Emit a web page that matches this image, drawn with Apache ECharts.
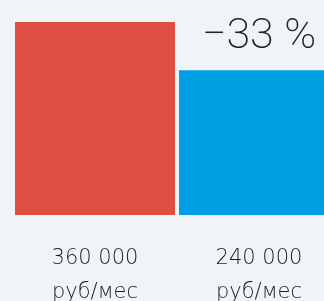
<!DOCTYPE html>
<html><head><meta charset="utf-8">
<style>html,body{margin:0;padding:0;background:#f0f4f8;}#c{width:324px;height:301px;}</style>
<script src="https://cdn.jsdelivr.net/npm/echarts@6/dist/echarts.min.js"></script>
</head><body><div id="c"></div>
<script>
var categories = ['360 000\nруб/мес', '240 000\nруб/мес'];
var values = [360000, 240000];
var colors = ['#dc4f41', '#009fe3'];
var changeLabel = '−33 %';

var chart = echarts.init(document.getElementById('c'));
chart.setOption({
  backgroundColor: '#f0f4f8',
  animation: false,
  grid: {left: 13, top: 22, width: 328, bottom: 86, outerBoundsMode: 'none', containLabel: false},
  xAxis: {
    type: 'category', data: categories,
    axisLine: {show: false}, axisTick: {show: false},
    axisLabel: {margin: 27, color: '#1e1e1e', fontFamily: 'DejaVu Sans', fontWeight: 200, fontSize: 21, lineHeight: 34, interval: 0}
  },
  yAxis: {type: 'value', min: -120000, max: 360000, startValue: -120000, show: false, splitLine: {show: false}},
  series: [{
    type: 'bar', barWidth: 160,
    data: values.map(function (v, i) {
      return {value: v, itemStyle: {color: colors[i]},
        label: i === 1 ? {show: true, position: 'top', distance: 12, formatter: changeLabel,
          fontFamily: 'Roboto', fontWeight: 200, fontSize: 43, color: '#222'} : {show: false}};
    })
  }]
});
</script></body></html>
